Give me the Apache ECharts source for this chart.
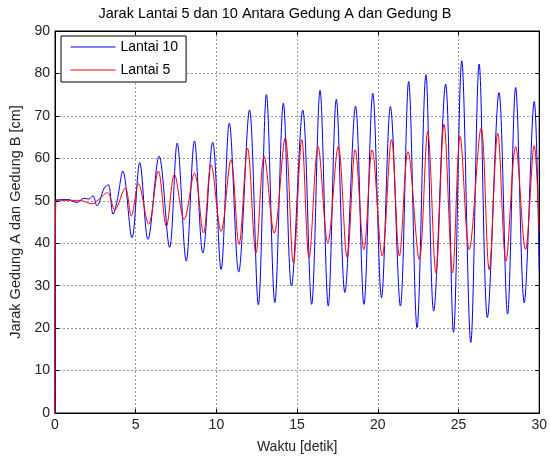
<!DOCTYPE html>
<html>
<head>
<meta charset="utf-8">
<script src="https://cdn.jsdelivr.net/npm/echarts@6/dist/echarts.min.js"></script>
<style>
  html, body { margin: 0; padding: 0; background: #fff; }
  #chart { width: 550px; height: 459px; }
</style>
</head>
<body>
<div id="chart"></div>
<script>
// Turning points (time in s, distance in cm) of each floor's trace
const timeLantai10 = [0, 0.05, 0.8, 1.36, 1.8, 2.1, 2.35, 2.6, 3.05, 3.3, 3.6, 3.85, 4.2, 4.77, 5.25, 5.76, 6.45,
  7.1, 7.57, 8.13, 8.64, 9.16, 9.77, 10.29, 10.8, 11.38, 12.05, 12.6, 13.1, 13.62, 14.15, 14.65, 15.35,
  15.9, 16.42, 16.93, 17.43, 17.96, 18.62, 19.14, 19.69, 20.23, 20.78, 21.4, 21.91, 22.43, 22.98, 23.46,
  24.2, 24.69, 25.2, 25.76, 26.28, 26.79, 27.51, 28.04, 28.54, 29.07, 29.69, 30];
const valueLantai10 = [0, 50.1, 50.3, 49.6, 50.6, 50.4, 51.2, 48.8, 53, 53.8, 46.8, 50, 57, 41.3, 59, 40.9, 60.5,
  39, 63.6, 35.8, 64.1, 37.7, 63.8, 33.8, 68.3, 33.2, 71.4, 25.5, 75, 26, 73, 29.9, 71.4,
  25.6, 76, 25.2, 73.9, 28.4, 72.3, 25.6, 75.3, 27.2, 72.2, 25.2, 78.1, 20.1, 79.7, 24,
  77.5, 19, 83, 16.6, 82.2, 22.5, 75.5, 23.3, 76.7, 26, 73.4, 33.8];

const timeLantai5 = [0, 0.05, 1.5, 2.3, 2.7, 3.25, 3.7, 4.35, 4.73, 5.17, 5.8, 6.4, 6.9, 7.4, 8.0, 8.64, 9.2,
  9.67, 10.29, 10.9, 11.4, 11.93, 12.45, 12.96, 13.58, 14.26, 14.77, 15.29, 15.74, 16.3, 16.9, 17.55,
  18.1, 18.6, 19.14, 19.65, 20.27, 20.85, 21.34, 21.87, 22.57, 23.09, 23.6, 24.1, 24.63, 25.1, 25.66,
  26.4, 26.9, 27.43, 27.94, 28.54, 29.15, 29.69, 30];
const valueLantai5 = [0, 50.1, 50.1, 49.3, 50.3, 51.9, 47.9, 53, 46.4, 54, 44.5, 57, 44, 56.2, 45.6, 56.5, 42.4,
  58.5, 42.8, 59.7, 39.7, 62.4, 37.7, 60.5, 42.4, 64.8, 35.4, 64.4, 36.6, 62.8, 40.1, 62.8,
  36.6, 62, 38.5, 62, 37, 64.4, 37, 61.6, 36.2, 66.3, 33, 68, 33, 65.2, 38.5,
  67.1, 33.8, 65.9, 35.8, 62.8, 38.5, 63, 42.5];

const xTicks = { min: 0, max: 30, interval: 5 };
const yTicks = { min: 0, max: 90, interval: 10 };

const pairs = (ts, vs) => ts.map((t, i) => [t, vs[i]]);

const FONT = '"Liberation Sans", Arial, Helvetica, sans-serif';
const gridLine = { show: true, lineStyle: { color: '#9a9a9a', type: [2, 2], width: 1 } };
const frameTick = { show: true, inside: true, length: 4, lineStyle: { color: '#000' } };
const frameLine = { show: true, onZero: false, lineStyle: { color: '#000' } };

const chart = echarts.init(document.getElementById('chart'), null, { renderer: 'canvas' });
chart.setOption({
  animation: false,
  backgroundColor: '#fff',
  textStyle: { fontFamily: FONT },
  title: {
    text: 'Jarak Lantai 5 dan 10 Antara Gedung A dan Gedung B',
    left: 'center', top: 6, padding: 0,
    textStyle: { fontSize: 14.5, fontWeight: 'normal', color: '#000', fontFamily: FONT }
  },
  grid: {
    left: 55, right: 9, top: 31, bottom: 45,
    show: true, borderColor: '#000', borderWidth: 1, backgroundColor: '#fff'
  },
  legend: {
    orient: 'vertical', left: 61, top: 36,
    padding: [4, 8, 5, 9], itemGap: 9, itemWidth: 45, itemHeight: 14,
    backgroundColor: '#fff', borderColor: '#000', borderWidth: 1, borderRadius: 0,
    itemStyle: { opacity: 0 },
    lineStyle: { width: 1 },
    textStyle: { fontSize: 14, color: '#000', fontFamily: FONT },
    data: ['Lantai 10', 'Lantai 5']
  },
  xAxis: [{
    type: 'value', min: xTicks.min, max: xTicks.max, interval: xTicks.interval,
    name: 'Waktu [detik]', nameLocation: 'middle', nameGap: 27,
    nameTextStyle: { fontSize: 14, color: '#222', fontFamily: FONT },
    axisLine: frameLine, axisTick: frameTick,
    axisLabel: { fontSize: 14, color: '#222', margin: 5 },
    splitLine: gridLine
  }, {
    type: 'value', position: 'top', min: xTicks.min, max: xTicks.max, interval: xTicks.interval,
    axisLine: frameLine, axisTick: frameTick,
    axisLabel: { show: false }, splitLine: { show: false }
  }],
  yAxis: [{
    type: 'value', min: yTicks.min, max: yTicks.max, interval: yTicks.interval,
    name: 'Jarak Gedung A dan Gedung B [cm]', nameLocation: 'middle', nameGap: 31,
    nameTextStyle: { fontSize: 14.5, color: '#222', fontFamily: FONT },
    axisLine: frameLine, axisTick: frameTick,
    axisLabel: { fontSize: 14, color: '#222', margin: 5 },
    splitLine: gridLine
  }, {
    type: 'value', position: 'right', min: yTicks.min, max: yTicks.max, interval: yTicks.interval,
    axisLine: frameLine, axisTick: frameTick,
    axisLabel: { show: false }, splitLine: { show: false }
  }],
  series: [{
    name: 'Lantai 10', type: 'line', symbol: 'none', smooth: 0.35, clip: false,
    lineStyle: { color: '#0000ff', width: 1 }, itemStyle: { color: '#0000ff' },
    data: pairs(timeLantai10, valueLantai10), z: 2
  }, {
    name: 'Lantai 5', type: 'line', symbol: 'none', smooth: 0.35, clip: false,
    lineStyle: { color: '#ff0000', width: 1 }, itemStyle: { color: '#ff0000' },
    data: pairs(timeLantai5, valueLantai5), z: 3
  }]
});
</script>
</body>
</html>
